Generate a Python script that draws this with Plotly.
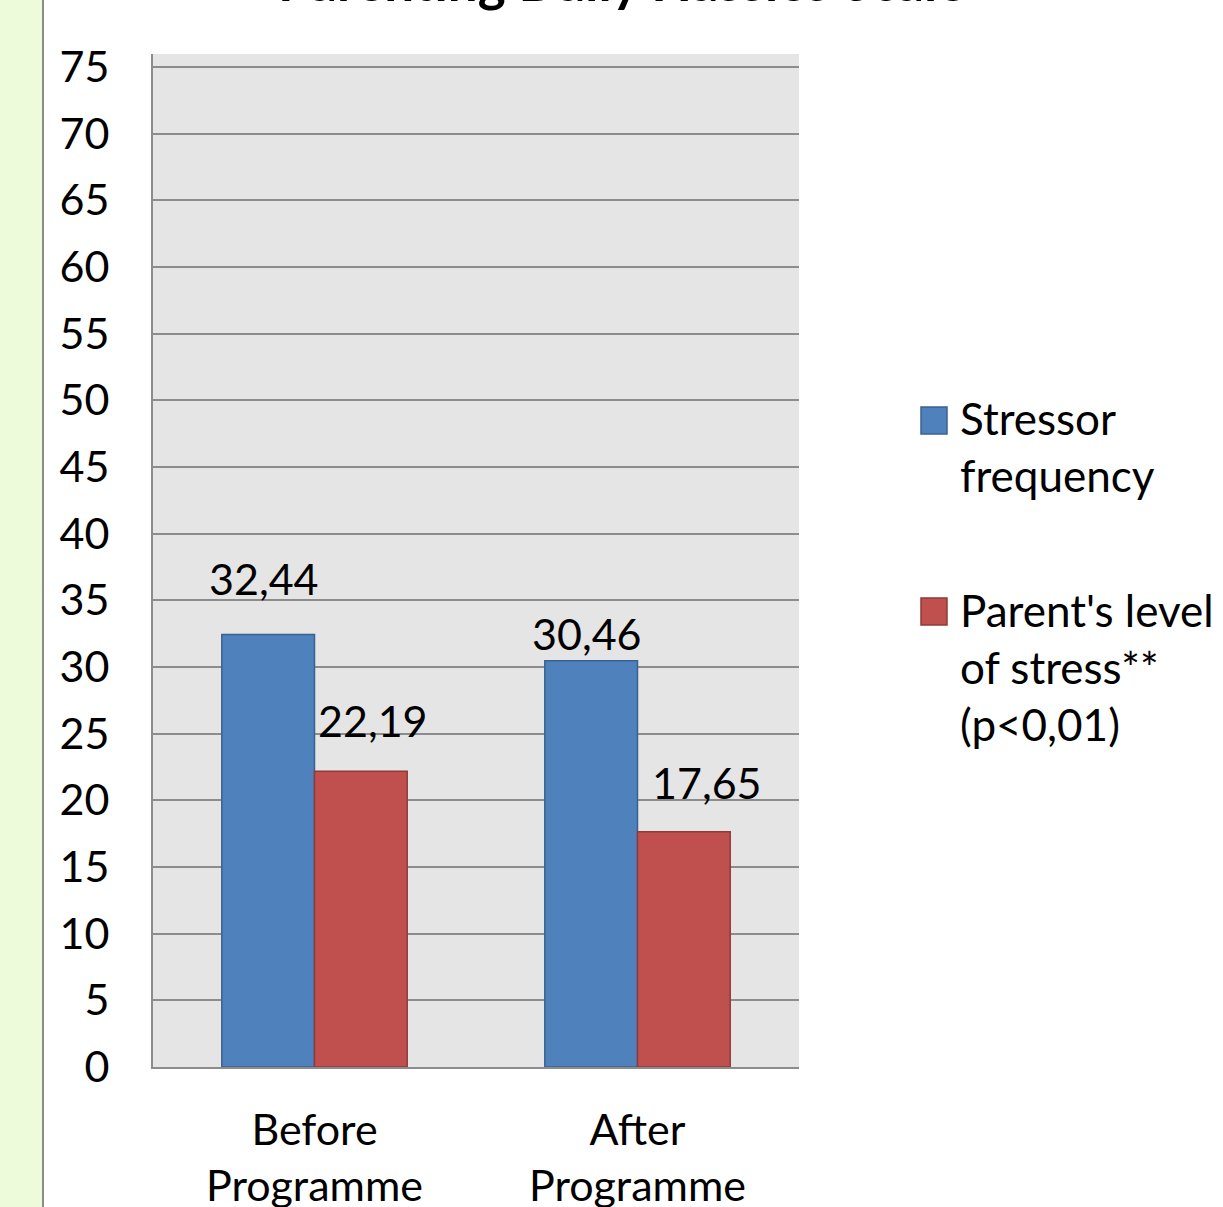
import plotly.graph_objects as go

# ---- data ----
categories = ["Before<br>Programme", "After<br>Programme"]
series_names = ["Stressor<br>frequency", "Parent's level<br>of stress**<br>(p<0,01)"]
stressor_frequency = [32.44, 30.46]
parent_stress = [22.19, 17.65]
y_ticks = list(range(0, 80, 5))
title_text = "Parenting Daily Hassles Scale"

# ---- styling ----
W, H = 1223, 1207
PX0, PX1, PY0, PY1 = 153, 799, 54, 1067   # plot area in page pixels
FONT = "Lato, 'Open Sans', sans-serif"
FS = 43
colors = ["#4F81BD", "#C0504D"]
edges = ["#3A6291", "#8E3A38"]
series_values = [stressor_frequency, parent_stress]
bar_shift = [-46, 46]
# label offsets (x px, y px above bar top) per series, per category
label_dx = [[-5, -5], [12, 23]]
label_dy = [[56, 27], [51, 49]]


def px_x(px):
    return (px - PX0) / (PX1 - PX0)


def px_y(py):
    return (PY1 - py) / (PY1 - PY0)


fig = go.Figure()
for name, vals, c, e in zip(series_names, series_values, colors, edges):
    fig.add_trace(go.Bar(
        x=categories, y=vals, name=name,
        marker=dict(color=c, line=dict(color=e, width=1.5)),
        showlegend=False,
    ))

# value labels above the bars
annotations = []
for s, vals in enumerate(series_values):
    for i, v in enumerate(vals):
        annotations.append(dict(
            x=categories[i], y=v, xref="x", yref="y",
            text=f"{v:.2f}".replace(".", ","), showarrow=False,
            xshift=bar_shift[s] + label_dx[s][i], yshift=label_dy[s][i],
            yanchor="middle", xanchor="center",
            font=dict(family=FONT, size=FS, color="#000"),
        ))

# legend drawn beside the plot
shapes = []
legend_sq_top = [407, 598]
legend_text_mid = [447, 667]
for s, name in enumerate(series_names):
    shapes.append(dict(
        type="rect", xref="paper", yref="paper",
        x0=px_x(921), x1=px_x(947),
        y0=px_y(legend_sq_top[s] + 27), y1=px_y(legend_sq_top[s]),
        fillcolor=colors[s], line=dict(color=edges[s], width=1.5),
    ))
    annotations.append(dict(
        x=px_x(958), y=px_y(legend_text_mid[s]), xref="paper", yref="paper",
        text=name, showarrow=False, xanchor="left", yanchor="middle", align="left",
        font=dict(family=FONT, size=44, color="#000"),
    ))

# title, partly above the visible page
annotations.append(dict(
    x=px_x(621), y=px_y(14), xref="paper", yref="paper",
    text=f"<b>{title_text}</b>", showarrow=False, xanchor="center", yanchor="bottom",
    font=dict(family=FONT, size=53, color="#000"),
))

# light green strip with divider on the left edge
shapes.append(dict(
    type="rect", xref="paper", yref="paper", layer="below",
    x0=px_x(0), x1=px_x(42), y0=px_y(H + 10), y1=px_y(-10),
    fillcolor="#EEFBDA", line=dict(width=0),
))
shapes.append(dict(
    type="line", xref="paper", yref="paper",
    x0=px_x(43), x1=px_x(43), y0=px_y(H + 10), y1=px_y(-10),
    line=dict(color="#8C8C8C", width=2),
))

fig.update_layout(
    width=W, height=H,
    margin=dict(l=PX0, r=W - PX1, t=PY0, b=H - PY1, pad=0, autoexpand=False),
    paper_bgcolor="#FFFFFF",
    plot_bgcolor="#E5E5E5",
    barmode="group",
    bargap=0.426,
    bargroupgap=0,
    showlegend=False,
    font=dict(family=FONT, size=FS, color="#000"),
    annotations=annotations,
    shapes=shapes,
)
fig.update_yaxes(
    range=[0, 75 * 1013 / 1000],
    tickvals=y_ticks, ticktext=[str(t) for t in y_ticks],
    showgrid=True, gridcolor="#8C8C8C", gridwidth=2,
    zeroline=False, automargin=False,
    showline=True, linecolor="#8C8C8C", linewidth=2,
    ticks="", ticklabelstandoff=33,
    tickfont=dict(family=FONT, size=FS, color="#000"),
    fixedrange=True,
)
fig.update_xaxes(
    showgrid=False, zeroline=False, automargin=False,
    showline=True, linecolor="#8C8C8C", linewidth=2,
    ticks="", ticklabelstandoff=24,
    tickfont=dict(family=FONT, size=FS, color="#000"),
)

fig.write_html("out.html")
